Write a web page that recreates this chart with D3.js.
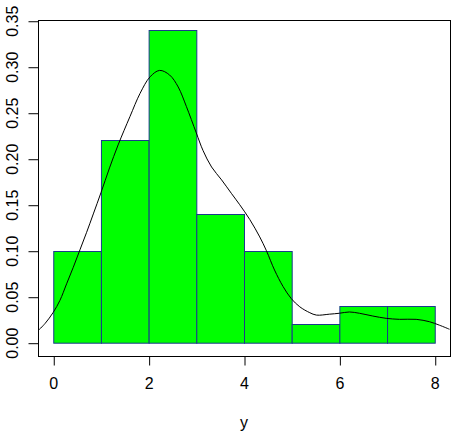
<!DOCTYPE html>
<html><head><meta charset="utf-8">
<script src="https://cdn.jsdelivr.net/npm/d3@7/dist/d3.min.js"></script>
<style>body{margin:0;background:#fff}svg{display:block}text{font-family:"Liberation Sans",Arial,sans-serif}</style>
</head><body>
<script>
const breaks = [0,1,2,3,4,5,6,7,8];
const densities = [0.10,0.22,0.34,0.14,0.10,0.02,0.04,0.04];
const xTicks = [0,2,4,6,8];
const yTicks = [0,0.05,0.10,0.15,0.20,0.25,0.30,0.35];
const kdeX = [-0.32,-0.17,0,0.14,0.28,0.42,0.56,0.70,0.84,1.0,1.18,1.36,1.61,1.82,2.03,2.23,2.44,2.62,2.79,3.0,3.14,3.32,3.53,3.74,3.91,4.12,4.33,4.47,4.64,4.82,4.99,5.17,5.38,5.52,5.79,6.0,6.21,6.42,6.70,6.98,7.26,7.61,7.89,8.10,8.31];
const kdeY = [0.013,0.021,0.033,0.046,0.064,0.082,0.101,0.120,0.140,0.163,0.19,0.215,0.246,0.271,0.289,0.296,0.291,0.278,0.257,0.228,0.209,0.191,0.177,0.162,0.150,0.134,0.115,0.100,0.079,0.061,0.048,0.039,0.0326,0.030,0.031,0.032,0.0334,0.032,0.029,0.0265,0.0254,0.0254,0.0228,0.019,0.0146];

const W=470,H=433, L=38,R=450,T=20,B=356;
const svg=d3.select("body").append("svg").attr("width",W).attr("height",H);
const x=d3.scaleLinear().domain([-0.32,8.32]).range([L,R]);
const y=d3.scaleLinear().domain([-0.01446,0.3508]).range([B,T]);

svg.append("defs").append("clipPath").attr("id","clip").append("rect")
  .attr("x",L).attr("y",T).attr("width",R-L).attr("height",B-T);

svg.append("g").selectAll("rect").data(densities).join("rect")
  .attr("x",(d,i)=>x(breaks[i])+0.5).attr("y",d=>Math.round(y(d))+0.5)
  .attr("width",(d,i)=>x(breaks[i+1])-x(breaks[i]))
  .attr("height",d=>y(0)-Math.round(y(d)))
  .attr("fill","#00ff00").attr("stroke","#1a3a8c").attr("stroke-width",1);

const pts=kdeX.map((v,i)=>[v,kdeY[i]]);
svg.append("path").attr("clip-path","url(#clip)")
  .attr("d",d3.line().x(d=>x(d[0])).y(d=>y(d[1])).curve(d3.curveCatmullRom)(pts))
  .attr("fill","none").attr("stroke","#000").attr("stroke-width",1);

svg.append("rect").attr("x",L+0.5).attr("y",T+0.5).attr("width",R-L).attr("height",B-T)
  .attr("fill","none").attr("stroke","#000");

const xa=svg.append("g").attr("transform",`translate(0,${B+0.5})`)
  .call(d3.axisBottom(x).tickValues(xTicks).tickSize(9).tickPadding(12).tickFormat(d3.format("d")));
xa.select(".domain").remove();
xa.selectAll("line").attr("transform","translate(0.5,0)");
xa.selectAll("text").attr("font-size",16).attr("fill","#000").attr("font-family","Liberation Sans, Arial, sans-serif");

const ya=svg.append("g").attr("transform",`translate(${L+0.5},0)`)
  .call(d3.axisLeft(y).tickValues(yTicks).tickSize(10).tickFormat(d3.format(".2f")));
ya.select(".domain").remove();
ya.selectAll("line").attr("transform","translate(0,0.5)");
ya.selectAll("text").remove();
ya.selectAll(".tick").append("text")
  .attr("transform","translate(-21,0) rotate(-90)")
  .attr("text-anchor","middle").attr("dy","0em")
  .attr("font-size",16).attr("fill","#000").attr("font-family","Liberation Sans, Arial, sans-serif")
  .text(d=>d3.format(".2f")(d));

svg.append("text").attr("x",(L+R)/2).attr("y",428).attr("text-anchor","middle")
  .attr("font-size",16).text("y");
</script>
</body></html>
